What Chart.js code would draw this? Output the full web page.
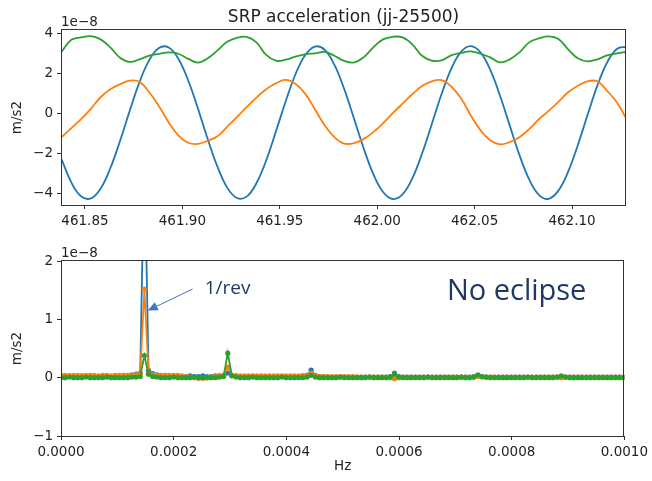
<!DOCTYPE html>
<html>
<head>
<meta charset="utf-8">
<title>SRP acceleration</title>
<script src="https://cdn.jsdelivr.net/npm/chart.js@4.4.0/dist/chart.umd.min.js"></script>
<style>
  html, body { margin: 0; padding: 0; background: #fff; }
  #wrap { position: relative; width: 652px; height: 481px; overflow: hidden; }
  canvas { position: absolute; left: 0; }
  #timeChart { top: 0; }
  #specChart { top: 240px; }
</style>
</head>
<body>
<div id="wrap">
  <canvas id="timeChart" width="652" height="240"></canvas>
  <canvas id="specChart" width="652" height="241"></canvas>
</div>
<script>
// ---- top panel: acceleration vs time (values in 1e-8 m/s2) ----
const timeDays = [
  461.838, 461.843, 461.848, 461.853, 461.858, 461.863, 461.868, 461.873, 461.878, 461.883,
  461.888, 461.893, 461.898, 461.903, 461.908, 461.913, 461.918, 461.923, 461.928, 461.933,
  461.938, 461.943, 461.948, 461.953, 461.958, 461.963, 461.968, 461.973, 461.978, 461.983,
  461.988, 461.993, 461.998, 462.003, 462.008, 462.013, 462.018, 462.023, 462.028, 462.033,
  462.038, 462.043, 462.048, 462.053, 462.058, 462.063, 462.068, 462.073, 462.078, 462.083,
  462.088, 462.093, 462.098, 462.103, 462.108, 462.113, 462.118, 462.123, 462.128
];
const accBlue = [
  -2.31, -3.47, -4.16, -4.27, -3.78, -2.76, -1.39, 0.13, 1.56, 2.66,
  3.27, 3.29, 2.72, 1.64, 0.23, -1.29, -2.68, -3.73, -4.25, -4.18,
  -3.51, -2.37, -0.92, 0.59, 1.94, 2.91, 3.34, 3.18, 2.43, 1.23,
  -0.24, -1.74, -3.05, -3.95, -4.30, -4.07, -3.27, -2.03, -0.55, 0.95,
  2.22, 3.07, 3.36, 3.05, 2.18, 0.89, -0.61, -2.09, -3.32, -4.09,
  -4.29, -3.88, -2.93, -1.59, -0.08, 1.38, 2.54, 3.22, 3.33
];
const accOrange = [
  -1.2, -0.75, -0.3, 0.22, 0.8, 1.2, 1.45, 1.63, 1.57, 1.05,
  0.35, -0.46, -1.12, -1.48, -1.54, -1.38, -1.15, -0.68, -0.2, 0.3,
  0.78, 1.2, 1.5, 1.67, 1.48, 0.98, 0.2, -0.6, -1.2, -1.52,
  -1.5, -1.3, -0.95, -0.5, 0.0, 0.48, 0.95, 1.36, 1.6, 1.66,
  1.34, 0.75, -0.1, -0.85, -1.35, -1.56, -1.45, -1.2, -0.8, -0.3,
  0.12, 0.57, 1.05, 1.38, 1.6, 1.6, 1.12, 0.55, -0.3
];
const accGreen = [
  3.08, 3.68, 3.8, 3.86, 3.7, 3.3, 2.78, 2.57, 2.7, 2.88,
  2.97, 3.05, 2.98, 2.72, 2.54, 2.75, 3.15, 3.58, 3.78, 3.82,
  3.55, 2.92, 2.63, 2.68, 2.83, 2.95, 3.0, 3.07, 2.88, 2.62,
  2.54, 2.8, 3.3, 3.7, 3.83, 3.8, 3.45, 2.88, 2.64, 2.65,
  2.9, 3.02, 3.1, 2.98, 2.8, 2.55, 2.7, 3.05, 3.55, 3.75,
  3.85, 3.72, 3.2, 2.75, 2.6, 2.7, 2.9, 3.0, 3.07
];
const timeTicks = [461.85, 461.90, 461.95, 462.00, 462.05, 462.10];
const timeTickLabels = ['461.85', '461.90', '461.95', '462.00', '462.05', '462.10'];
const accTicks = [-4, -2, 0, 2, 4];
const accTickLabels = ['\u22124', '\u22122', '0', '2', '4'];

// ---- bottom panel: spectrum (frequency in microHz, amplitude in 1e-8 m/s2) ----
const freqMicroHz = [
  0, 7.4, 14.8, 22.2, 29.6, 37, 44.4, 51.8, 59.2, 66.6,
  74, 81.4, 88.8, 96.2, 103.6, 111, 118.4, 125.8, 133.2, 140.6,
  148, 155.4, 162.8, 170.2, 177.6, 185, 192.4, 199.8, 207.2, 214.6,
  222, 229.4, 236.8, 244.2, 251.6, 259, 266.4, 273.8, 281.2, 288.6,
  296, 303.4, 310.8, 318.2, 325.6, 333, 340.4, 347.8, 355.2, 362.6,
  370, 377.4, 384.8, 392.2, 399.6, 407, 414.4, 421.8, 429.2, 436.6,
  444, 451.4, 458.8, 466.2, 473.6, 481, 488.4, 495.8, 503.2, 510.6,
  518, 525.4, 532.8, 540.2, 547.6, 555, 562.4, 569.8, 577.2, 584.6,
  592, 599.4, 606.8, 614.2, 621.6, 629, 636.4, 643.8, 651.2, 658.6,
  666, 673.4, 680.8, 688.2, 695.6, 703, 710.4, 717.8, 725.2, 732.6,
  740, 747.4, 754.8, 762.2, 769.6, 777, 784.4, 791.8, 799.2, 806.6,
  814, 821.4, 828.8, 836.2, 843.6, 851, 858.4, 865.8, 873.2, 880.6,
  888, 895.4, 902.8, 910.2, 917.6, 925, 932.4, 939.8, 947.2, 954.6,
  962, 969.4, 976.8, 984.2, 991.6, 999
];
const specBlue = [
  0.04, 0.03, 0.03, 0.02, 0.03, 0.03, 0.02, 0.03, 0.03, 0.02,
  0.03, 0.03, 0.02, 0.03, 0.03, 0.04, 0.04, 0.05, 0.06, 0.08,
  3.9, 0.12, 0.07, 0.05, 0.04, 0.04, 0.03, 0.03, 0.03, 0.02,
  0.02, 0.03, 0.02, 0.02, 0.03, 0.02, 0.02, 0.03, 0.03, 0.04,
  0.08, 0.04, 0.03, 0.02, 0.02, 0.02, 0.02, 0.02, 0.02, 0.02,
  0.02, 0.02, 0.01, 0.02, 0.02, 0.01, 0.02, 0.02, 0.03, 0.04,
  0.13, 0.04, 0.02, 0.02, 0.01, 0.01, 0.01, 0.01, 0.01, 0.01,
  0.01, 0.01, 0.01, 0.01, 0.01, 0.01, 0.01, 0.01, 0.01, 0.02,
  0.04, 0.02, 0.01, 0.01, 0.01, 0.01, 0.01, 0.01, 0.01, 0.01,
  0.01, 0.01, 0.01, 0.01, 0.01, 0.01, 0.01, 0.01, 0.01, 0.02,
  0.03, 0.02, 0.01, 0.01, 0.01, 0.01, 0.01, 0.01, 0.01, 0.01,
  0.01, 0.01, 0.01, 0.01, 0.01, 0.01, 0.01, 0.01, 0.01, 0.01,
  0.02, 0.01, 0.01, 0.01, 0.01, 0.01, 0.01, 0.01, 0.01, 0.01,
  0.01, 0.01, 0.01, 0.01, 0.01, 0.01
];
const specOrange = [
  0.04, 0.04, 0.03, 0.04, 0.04, 0.03, 0.04, 0.04, 0.04, 0.03,
  0.04, 0.04, 0.03, 0.04, 0.04, 0.04, 0.04, 0.04, 0.05, 0.06,
  1.52, 0.08, 0.05, 0.04, 0.04, 0.04, 0.04, 0.04, 0.04, 0.03,
  0.02, 0.01, 0.00, -0.01, -0.01, 0.00, 0.01, 0.02, 0.03, 0.04,
  0.18, 0.04, 0.03, 0.03, 0.03, 0.03, 0.03, 0.03, 0.03, 0.03,
  0.03, 0.03, 0.03, 0.03, 0.03, 0.03, 0.03, 0.03, 0.03, 0.03,
  0.08, 0.03, 0.02, 0.02, 0.02, 0.02, 0.02, 0.02, 0.02, 0.02,
  0.02, 0.01, 0.01, 0.01, 0.01, 0.01, 0.01, 0.01, 0.01, 0.00,
  -0.02, 0.00, 0.01, 0.01, 0.01, 0.01, 0.01, 0.01, 0.01, 0.01,
  0.01, 0.01, 0.01, 0.01, 0.01, 0.01, 0.01, 0.01, 0.01, 0.01,
  0.02, 0.01, 0.01, 0.01, 0.01, 0.01, 0.01, 0.01, 0.01, 0.01,
  0.01, 0.01, 0.01, 0.01, 0.01, 0.01, 0.01, 0.01, 0.01, 0.01,
  0.00, 0.01, 0.01, 0.01, 0.01, 0.01, 0.01, 0.01, 0.01, 0.01,
  0.01, 0.01, 0.01, 0.01, 0.01, 0.01
];
const specGreen = [
  0.00, 0.00, 0.01, 0.00, 0.00, 0.00, 0.01, 0.00, 0.00, 0.00,
  0.00, 0.01, 0.00, 0.00, 0.00, 0.00, 0.00, 0.01, 0.01, 0.02,
  0.38, 0.06, 0.02, 0.01, 0.00, 0.00, 0.00, 0.01, 0.00, 0.00,
  0.00, 0.00, 0.01, 0.00, 0.00, 0.00, 0.00, 0.00, 0.01, 0.02,
  0.42, 0.03, 0.01, 0.00, 0.00, 0.00, 0.01, 0.00, 0.00, 0.00,
  0.00, 0.00, 0.00, 0.01, 0.00, 0.00, 0.00, 0.00, 0.00, 0.01,
  0.04, 0.01, 0.00, 0.00, 0.00, 0.00, 0.00, 0.01, 0.00, 0.00,
  0.00, 0.00, 0.00, 0.00, 0.01, 0.00, 0.00, 0.00, 0.00, 0.01,
  0.08, 0.01, 0.00, 0.00, 0.00, 0.00, 0.00, 0.00, 0.01, 0.00,
  0.00, 0.00, 0.00, 0.00, 0.00, 0.00, 0.01, 0.00, 0.00, 0.01,
  0.05, 0.02, 0.01, 0.00, 0.00, 0.00, 0.00, 0.00, 0.00, 0.00,
  0.00, 0.00, 0.01, 0.00, 0.00, 0.00, 0.00, 0.00, 0.00, 0.01,
  0.03, 0.01, 0.00, 0.00, 0.00, 0.00, 0.00, 0.00, 0.00, 0.00,
  0.00, 0.00, 0.00, 0.00, 0.00, 0.00
];
const freqTicks = [0, 200, 400, 600, 800, 1000];
const freqTickLabels = ['0.0000', '0.0002', '0.0004', '0.0006', '0.0008', '0.0010'];
const specTicks = [-1, 0, 1, 2];
const specTickLabels = ['\u22121', '0', '1', '2'];

const BLUE = '#1f77b4', ORANGE = '#ff7f0e', GREEN = '#2ca02c';
const FONT = "'DejaVu Sans', sans-serif";
const NOTE_COLOR = '#1f3864';

// builds a matplotlib-looking linear axis with fixed ticks
function makeAxis(min, max, ticks, labels, fit) {
  return {
    type: 'linear',
    min: min,
    max: max,
    afterBuildTicks: scale => { scale.ticks = ticks.map(v => ({ value: v })); },
    afterFit: fit,
    grid: { drawOnChartArea: false, drawTicks: true, tickLength: 4, tickColor: '#333', lineWidth: 1 },
    border: { display: false },
    ticks: {
      autoSkip: false,
      maxRotation: 0,
      padding: 4,
      color: '#222',
      font: { family: FONT, size: 13.5 },
      callback: (v, i) => labels[i]
    }
  };
}

const points = (xs, ys) => xs.map((x, i) => ({ x: x, y: ys[i] }));

// frame, offset text, axis labels and notes
const decor = {
  id: 'decor',
  afterDraw(chart, args, opts) {
    const { ctx, chartArea: a } = chart;
    ctx.save();
    ctx.strokeStyle = '#333';
    ctx.lineWidth = 1;
    ctx.strokeRect(Math.round(a.left) + 0.5, Math.round(a.top) - 0.5,
      Math.round(a.right - a.left) - 1, Math.round(a.bottom - a.top) + 1);

    ctx.fillStyle = '#222';
    ctx.font = '13.5px ' + FONT;
    ctx.textAlign = 'left';
    ctx.textBaseline = 'alphabetic';
    ctx.fillText('1e\u22128', a.left, a.top - 4);

    ctx.save();
    ctx.translate(17.5, (a.top + a.bottom) / 2);
    ctx.rotate(-Math.PI / 2);
    ctx.textAlign = 'center';
    ctx.textBaseline = 'middle';
    ctx.fillText('m/s2', 0, 0);
    ctx.restore();

    const midX = (a.left + a.right) / 2;
    if (opts.title) {
      ctx.font = '17px ' + FONT;
      ctx.textAlign = 'center';
      ctx.fillText(opts.title, midX, a.top - 8);
    }
    if (opts.xLabel) {
      ctx.textAlign = 'center';
      ctx.fillText(opts.xLabel, midX, a.bottom + 34);
    }
    if (opts.notes) {
      const xs = chart.scales.x, ys = chart.scales.y;
      const n = opts.notes;
      // arrow to the 1/rev peak
      const x0 = xs.getPixelForValue(n.arrowFrom[0]), y0 = ys.getPixelForValue(n.arrowFrom[1]);
      const x1 = xs.getPixelForValue(n.arrowTo[0]), y1 = ys.getPixelForValue(n.arrowTo[1]);
      const ang = Math.atan2(y1 - y0, x1 - x0);
      const len = 10, half = 4.5;
      const bx = x1 - len * Math.cos(ang), by = y1 - len * Math.sin(ang);
      ctx.strokeStyle = '#4472c4';
      ctx.fillStyle = '#4472c4';
      ctx.beginPath();
      ctx.moveTo(x0, y0);
      ctx.lineTo(bx, by);
      ctx.stroke();
      ctx.beginPath();
      ctx.moveTo(x1, y1);
      ctx.lineTo(bx + half * Math.sin(ang), by - half * Math.cos(ang));
      ctx.lineTo(bx - half * Math.sin(ang), by + half * Math.cos(ang));
      ctx.closePath();
      ctx.fill();

      ctx.fillStyle = NOTE_COLOR;
      ctx.textAlign = 'left';
      ctx.font = "19px 'Open Sans', sans-serif";
      ctx.fillText(n.revText, xs.getPixelForValue(n.revAt[0]), ys.getPixelForValue(n.revAt[1]));
      ctx.font = "29px 'Open Sans', sans-serif";
      ctx.fillText(n.eclipseText, xs.getPixelForValue(n.eclipseAt[0]), ys.getPixelForValue(n.eclipseAt[1]));
    }
    ctx.restore();
  }
};

const baseOptions = {
  responsive: false,
  animation: false,
  events: [],
  plugins: { legend: { display: false }, tooltip: { enabled: false } }
};

new Chart(document.getElementById('timeChart'), {
  type: 'line',
  data: {
    datasets: [
      { data: points(timeDays, accBlue), borderColor: BLUE, order: 3 },
      { data: points(timeDays, accOrange), borderColor: ORANGE, order: 2 },
      { data: points(timeDays, accGreen), borderColor: GREEN, order: 1 }
    ].map(d => Object.assign(d, {
      borderWidth: 1.8, pointRadius: 0, tension: 0.4, fill: false, clip: 0
    }))
  },
  options: Object.assign({}, baseOptions, {
    layout: { padding: { top: 30, right: 26, left: 0, bottom: 0 } },
    scales: {
      x: makeAxis(461.8377, 462.1277, timeTicks, timeTickLabels, s => { s.height = 35; }),
      y: makeAxis(-4.6, 4.17, accTicks, accTickLabels, s => { s.width = 61; })
    },
    plugins: Object.assign({}, baseOptions.plugins, {
      decor: { title: 'SRP acceleration (jj-25500)' }
    })
  }),
  plugins: [decor]
});

new Chart(document.getElementById('specChart'), {
  type: 'line',
  data: {
    datasets: [
      { data: points(freqMicroHz, specBlue), borderColor: BLUE, backgroundColor: BLUE, order: 3 },
      { data: points(freqMicroHz, specOrange), borderColor: ORANGE, backgroundColor: ORANGE, order: 2 },
      { data: points(freqMicroHz, specGreen), borderColor: GREEN, backgroundColor: GREEN, order: 1 }
    ].map(d => Object.assign(d, {
      borderWidth: 1.8, pointRadius: 2.6, pointBorderWidth: 0,
      pointBackgroundColor: d.borderColor, tension: 0, fill: false, clip: 0
    }))
  },
  options: Object.assign({}, baseOptions, {
    layout: { padding: { top: 21, right: 26, left: 0, bottom: 0 } },
    scales: {
      x: makeAxis(0, 1000, freqTicks, freqTickLabels, s => { s.height = 45; }),
      y: makeAxis(-1, 2, specTicks, specTickLabels, s => { s.width = 61; })
    },
    plugins: Object.assign({}, baseOptions.plugins, {
      decor: {
        xLabel: 'Hz',
        notes: {
          arrowFrom: [233.6, 1.52],
          arrowTo: [154, 1.15],
          revText: '1/rev',
          revAt: [255, 1.43],
          eclipseText: 'No eclipse',
          eclipseAt: [685, 1.33]
        }
      }
    })
  }),
  plugins: [decor]
});
</script>
</body>
</html>
